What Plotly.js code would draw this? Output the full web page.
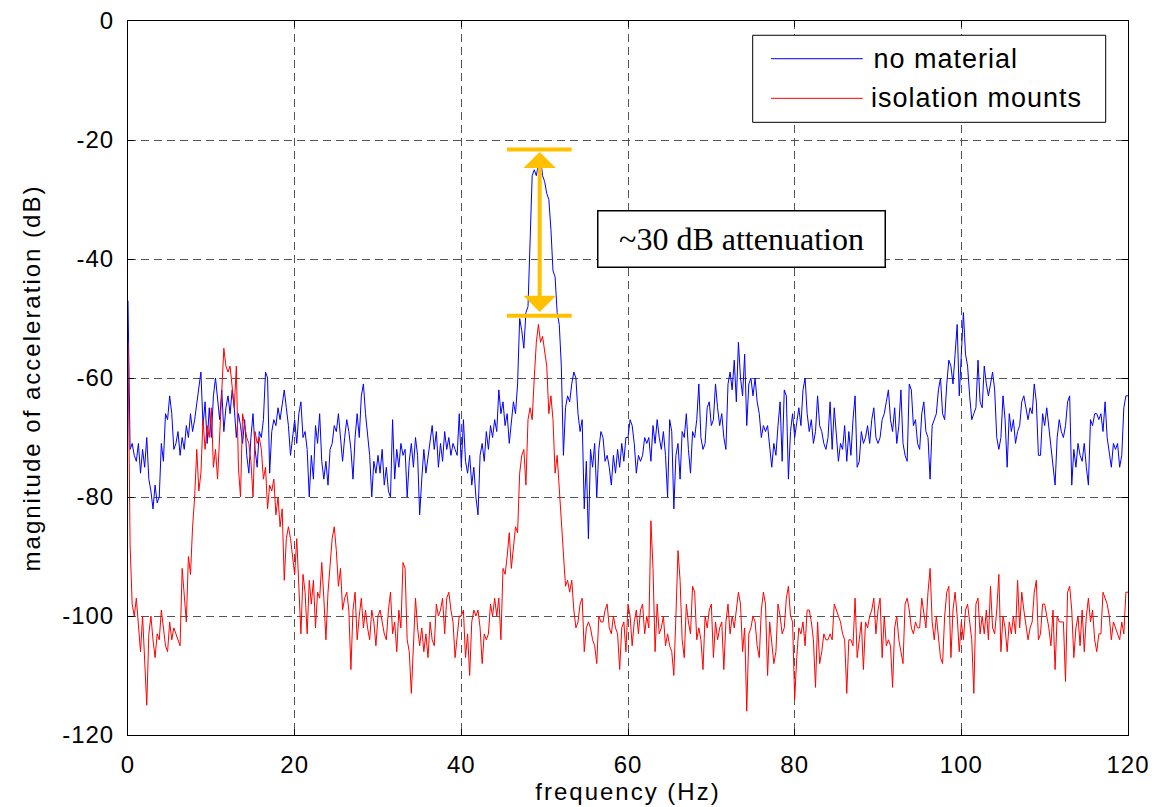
<!DOCTYPE html>
<html>
<head>
<meta charset="utf-8">
<script src="https://cdn.plot.ly/plotly-3.0.1.min.js"></script>
<style>
  html, body { margin: 0; padding: 0; background: #ffffff; }
  #chart { width: 1158px; height: 807px; }
  .xtitle, .ytitle { letter-spacing: 2px; }
  .xtick text, .ytick text { letter-spacing: 1px; }
  g.annotation[data-index="2"] text, g.annotation[data-index="3"] text { letter-spacing: 1px; }
</style>
</head>
<body>
<div id="chart"></div>
<script>
// ---------------- DATA ----------------
const FREQ_STEP = 0.25; // Hz between samples, 0 .. 120 Hz

const seriesNames = ['no material', 'isolation mounts'];

// magnitude of acceleration (dB), "no material"
const noMaterial = [
  -47,-72,-71,-73,  -74,-71,-76,-72,  -75,-70,-77,-79,  -82,-78,-81,-80,  -71,-74,-66,-67,
  -63,-66,-72,-71,  -69,-73,-70,-72,  -68,-70,-66,-69,  -67,-64,-61,-59,  -68,-64,-71,-65,
  -70,-63,-60,-64,  -67,-62,-69,-65,  -63,-66,-62,-65,  -70,-66,-68,-71,  -67,-73,-76,-70,
  -66,-72,-75,-69,  -70,-67,-59,-60,  -76,-69,-67,-68,  -65,-67,-64,-62,  -65,-68,-73,-70,
  -67,-71,-66,-64,  -70,-69,-72,-80,  -73,-77,-68,-71,  -66,-74,-77,-74,  -78,-72,-71,-68,
  -69,-66,-70,-74,  -70,-67,-69,-72,  -77,-70,-66,-70,  -63,-61,-66,-70,  -73,-80,-74,-76,
  -73,-76,-72,-78,  -75,-79,-80,-67,  -77,-72,-75,-71,  -73,-72,-80,-74,  -71,-75,-70,-73,
  -83,-77,-72,-76,  -73,-71,-68,-72,  -69,-75,-71,-74,  -69,-72,-70,-73,  -71,-72,-73,-66,
  -75,-67,-74,-76,  -73,-78,-75,-80,  -83,-73,-71,-74,  -69,-72,-68,-70,  -67,-69,-62,-66,
  -64,-68,-66,-71,  -67,-64,-66,-61,  -50,-52,-55,-49,  -48,-37,-26,-25,  -26,-24,-23,-26,
  -27,-29,-30,-35,  -42,-43,-49,-51,  -58,-73,-65,-63,  -64,-61,-59,-60,  -66,-69,-67,-82,
  -74,-87,-72,-75,  -71,-80,-72,-69,  -70,-74,-73,-75,  -78,-73,-76,-72,  -75,-71,-74,-70,
  -70,-67,-68,-71,  -76,-73,-74,-73,  -70,-71,-70,-74,  -68,-71,-67,-70,  -72,-69,-73,-80,
  -67,-69,-82,-73,  -71,-77,-69,-70,  -66,-72,-76,-69,  -70,-67,-61,-70,  -72,-71,-65,-64,
  -68,-67,-61,-65,  -68,-66,-70,-72,  -61,-59,-62,-57,  -64,-54,-60,-63,  -56,-68,-61,-60,
  -63,-60,-64,-66,  -70,-68,-69,-68,  -71,-75,-71,-73,  -68,-64,-74,-62,  -63,-77,-69,-66,
  -70,-67,-65,-68,  -62,-60,-66,-69,  -67,-71,-69,-63,  -68,-69,-71,-72,  -70,-64,-72,-65,
  -70,-74,-71,-72,  -68,-74,-69,-73,  -67,-63,-75,-74,  -69,-71,-70,-68,  -71,-67,-65,-70,
  -71,-70,-67,-66,  -64,-62,-67,-69,  -65,-71,-68,-62,  -71,-73,-74,-61,  -62,-68,-67,-71,
  -72,-66,-64,-69,  -70,-77,-68,-67,  -66,-62,-60,-66,  -67,-61,-57,-58,  -61,-56,-51,-63,
  -55,-49,-56,-58,  -63,-67,-66,-65,  -57,-64,-65,-58,  -61,-63,-61,-59,  -62,-70,-72,-70,
  -63,-67,-75,-66,  -69,-67,-71,-69,  -68,-64,-63,-65,  -67,-65,-66,-61,  -64,-73,-73,-66,
  -68,-65,-68,-71,  -74,-78,-70,-67,  -69,-70,-68,-64,  -63,-78,-72,-75,  -71,-73,-74,-71,
  -75,-78,-67,-68,  -66,-66,-67,-66,  -69,-64,-70,-73,  -75,-71,-72,-71,  -75,-73,-65,-63,
  -63
];

// magnitude of acceleration (dB), "isolation mounts"
const isolationMounts = [
  -54,-88,-98,-100,  -97,-101,-106,-100,  -109,-115,-103,-100,  -104,-107,-103,-104,  -99,-102,-105,-106,
  -101,-104,-102,-103,  -104,-105,-92,-96,  -101,-90,-93,-85,  -80,-72,-79,-76,  -67,-72,-68,-70,
  -65,-75,-72,-77,  -70,-62,-55,-58,  -59,-58,-62,-65,  -58,-75,-80,-66,  -68,-70,-71,-74,
  -80,-69,-71,-70,  -72,-77,-75,-82,  -78,-79,-77,-83,  -80,-85,-82,-94,  -87,-85,-87,-90,
  -93,-87,-95,-103,  -93,-96,-103,-94,  -98,-94,-102,-96,  -97,-91,-97,-104,  -96,-91,-87,-85,
  -89,-95,-92,-99,  -97,-96,-99,-109,  -99,-96,-104,-100,  -97,-102,-99,-102,  -104,-99,-101,-105,
  -100,-99,-101,-103,  -104,-99,-96,-103,  -101,-106,-99,-102,  -91,-92,-104,-106,  -113,-104,-97,-102,
  -105,-102,-106,-103,  -107,-101,-104,-105,  -98,-100,-99,-97,  -103,-97,-96,-99,  -101,-107,-103,-100,
  -100,-99,-107,-103,  -110,-101,-99,-100,  -99,-102,-108,-103,  -104,-103,-98,-100,  -97,-100,-97,-104,
  -92,-93,-90,-86,  -92,-88,-85,-86,  -76,-73,-72,-78,  -67,-65,-67,-60,  -54,-51,-54,-53,
  -56,-58,-66,-63,  -67,-76,-73,-79,  -85,-90,-95,-94,  -96,-94,-99,-102,  -101,-98,-97,-106,
  -102,-101,-102,-104,  -105,-108,-100,-101,  -101,-99,-98,-102,  -103,-100,-102,-103,  -109,-102,-101,-106,
  -98,-100,-105,-101,  -99,-103,-99,-98,  -103,-100,-102,-84,  -92,-106,-98,-103,  -102,-100,-105,-103,
  -105,-106,-110,-100,  -89,-94,-104,-107,  -98,-101,-103,-95,  -96,-104,-102,-104,  -109,-100,-102,-99,
  -98,-107,-101,-104,  -102,-101,-109,-101,  -98,-103,-100,-102,  -99,-96,-98,-106,  -102,-116,-103,-102,
  -100,-101,-105,-107,  -99,-96,-98,-110,  -101,-105,-108,-106,  -98,-100,-103,-102,  -97,-95,-100,-101,
  -114,-107,-102,-103,  -101,-105,-99,-99,  -101,-104,-112,-101,  -108,-106,-103,-104,  -104,-103,-104,-98,
  -99,-100,-101,-103,  -104,-113,-104,-104,  -105,-97,-107,-104,  -101,-109,-101,-102,  -100,-99,-97,-103,
  -99,-97,-107,-100,  -105,-104,-105,-112,  -102,-100,-104,-106,  -108,-98,-97,-99,  -102,-103,-101,-102,
  -102,-97,-100,-102,  -96,-92,-101,-104,  -100,-104,-107,-108,  -100,-96,-95,-107,  -99,-96,-100,-106,
  -101,-104,-99,-98,  -101,-104,-113,-98,  -97,-103,-100,-103,  -99,-104,-95,-102,  -103,-99,-93,-106,
  -100,-102,-106,-101,  -103,-100,-103,-94,  -102,-96,-99,-102,  -104,-102,-101,-96,  -94,-104,-103,-98,
  -98,-100,-102,-105,  -99,-109,-100,-101,  -101,-101,-111,-96,  -95,-99,-107,-102,  -100,-105,-99,-106,
  -100,-97,-101,-99,  -104,-106,-103,-103,  -96,-97,-98,-100,  -104,-101,-102,-103,  -104,-101,-103,-96,
  -96
];

// tick labels
const xTickVals = [0, 20, 40, 60, 80, 100, 120];
const xTickText = ['0', '20', '40', '60', '80', '100', '120'];
const yTickVals = [0, -20, -40, -60, -80, -100, -120];
const yTickText = ['0', '-20', '-40', '-60', '-80', '-100', '-120'];

// the marked attenuation: peak level of each series near 49.4 Hz
const attenFreq = 49.4;
const attenTop = -21.6;
const attenBottom = -49.55;
const attenLabel = '~30 dB attenuation';

// ---------------- FIGURE ----------------
const freq = noMaterial.map((_, i) => i * FREQ_STEP);

const SANS = 'Liberation Sans, Arial, Helvetica, sans-serif';
const SERIF = 'Liberation Serif, Times New Roman, serif';
const ORANGE = '#FFC000';
const BLUE = '#0000FF';
const RED = '#FF0000';

const traces = [
  { x: freq, y: noMaterial, name: seriesNames[0], type: 'scatter', mode: 'lines',
    line: { color: BLUE, width: 1 }, hoverinfo: 'skip' },
  { x: freq, y: isolationMounts, name: seriesNames[1], type: 'scatter', mode: 'lines',
    line: { color: RED, width: 1 }, hoverinfo: 'skip' }
];

const axisCommon = {
  ticks: 'inside', ticklen: 6, tickwidth: 1, tickcolor: '#000',
  showline: true, linecolor: '#000', linewidth: 1, mirror: 'allticks',
  showgrid: true, gridcolor: '#555', gridwidth: 1, griddash: '8px,5px',
  zeroline: false, tickmode: 'array', fixedrange: true,
  tickfont: { family: SANS, size: 24, color: '#000' }
};

// legend drawn by hand (long line samples like the original)
const legX0 = 0.6247, legX1 = 0.9777, legY0 = 0.8581, legY1 = 0.98;
const sampleX0 = 0.643, sampleX1 = 0.7347, legTextX = 0.7487;
const legRowY = [0.9472, 0.8917];

const layout = {
  width: 1158, height: 807,
  margin: { l: 128, r: 30, t: 21, b: 72, pad: 0 },
  paper_bgcolor: '#fff', plot_bgcolor: '#fff',
  showlegend: false,
  font: { family: SANS, color: '#000' },
  xaxis: Object.assign({}, axisCommon, {
    range: [0, 120], tickvals: xTickVals, ticktext: xTickText,
    ticklabelstandoff: 8,
    title: { text: 'frequency (Hz)', font: { family: SANS, size: 24, color: '#000' }, standoff: 6 }
  }),
  yaxis: Object.assign({}, axisCommon, {
    range: [-120, 0], tickvals: yTickVals, ticktext: yTickText,
    ticklabelstandoff: 8,
    title: { text: 'magnitude of acceleration (dB)', font: { family: SANS, size: 24, color: '#000' }, standoff: 14 }
  }),
  shapes: [
    // attenuation caps
    { type: 'line', xref: 'x', yref: 'y', x0: 45.47, x1: 53.24, y0: attenTop, y1: attenTop,
      line: { color: ORANGE, width: 4 }, layer: 'above' },
    { type: 'line', xref: 'x', yref: 'y', x0: 45.47, x1: 53.24, y0: attenBottom, y1: attenBottom,
      line: { color: ORANGE, width: 4 }, layer: 'above' },
    // legend box and samples
    { type: 'rect', xref: 'paper', yref: 'paper', x0: legX0, x1: legX1, y0: legY0, y1: legY1,
      line: { color: '#000', width: 1 }, fillcolor: '#fff', layer: 'above' },
    { type: 'line', xref: 'paper', yref: 'paper', x0: sampleX0, x1: sampleX1, y0: legRowY[0], y1: legRowY[0],
      line: { color: BLUE, width: 1 }, layer: 'above' },
    { type: 'line', xref: 'paper', yref: 'paper', x0: sampleX0, x1: sampleX1, y0: legRowY[1], y1: legRowY[1],
      line: { color: RED, width: 1 }, layer: 'above' }
  ],
  annotations: [
    // double-headed attenuation arrow
    { xref: 'x', yref: 'y', axref: 'x', ayref: 'y',
      x: attenFreq, y: attenTop - 0.4, ax: attenFreq, ay: attenBottom + 0.4,
      text: '', showarrow: true, arrowside: 'end+start',
      arrowhead: 1, startarrowhead: 1, arrowsize: 1.35, startarrowsize: 1.35,
      arrowwidth: 4, arrowcolor: ORANGE },
    // text box
    { xref: 'x', yref: 'y', x: 73.6, y: -36.7, text: attenLabel, showarrow: false,
      font: { family: SERIF, size: 32, color: '#000' },
      bgcolor: '#fff', bordercolor: '#000', borderwidth: 1.5, borderpad: 9,
      width: 268, height: 37, xanchor: 'center', yanchor: 'middle' },
    // legend labels
    { xref: 'paper', yref: 'paper', x: legTextX, y: legRowY[0], text: seriesNames[0], showarrow: false,
      xanchor: 'left', yanchor: 'middle', font: { family: SANS, size: 27, color: '#000' } },
    { xref: 'paper', yref: 'paper', x: legTextX, y: legRowY[1], text: seriesNames[1], showarrow: false,
      xanchor: 'left', yanchor: 'middle', font: { family: SANS, size: 27, color: '#000' } }
  ]
};

Plotly.newPlot('chart', traces, layout, { displayModeBar: false, staticPlot: true });
</script>
</body>
</html>
